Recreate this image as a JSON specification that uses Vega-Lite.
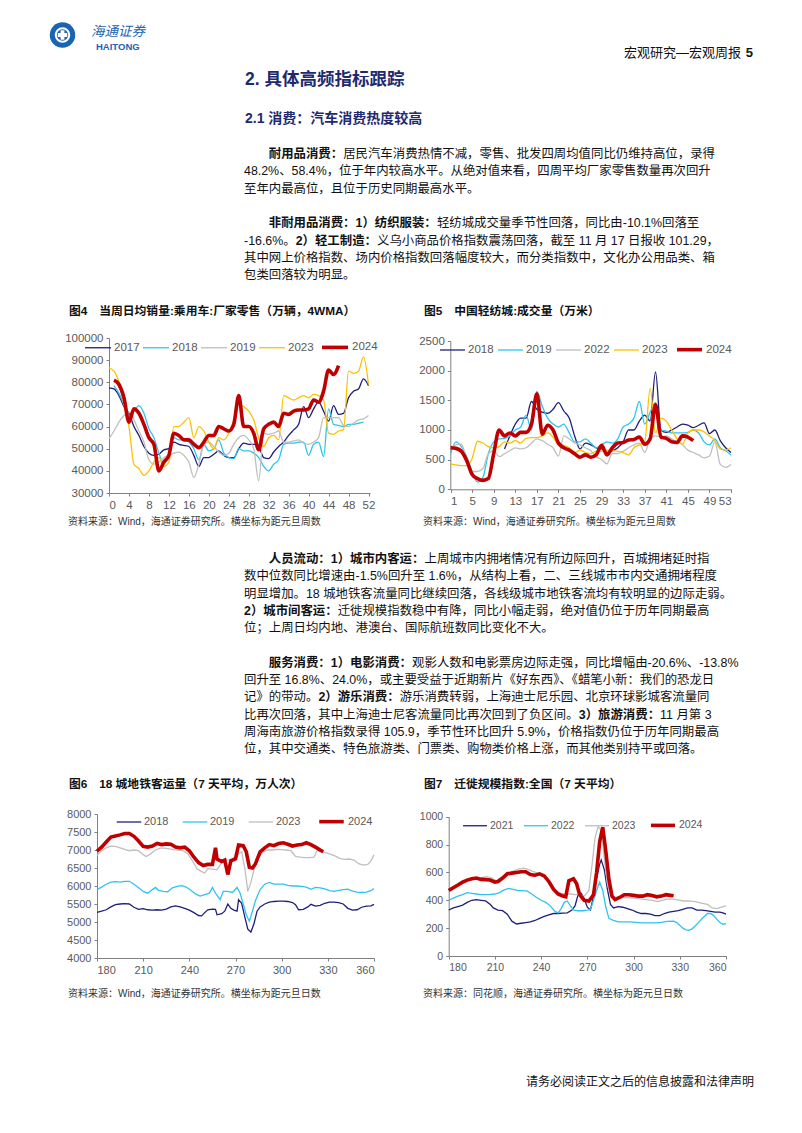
{
"$schema": "https://vega.github.io/schema/vega-lite/v6.json",
"padding": 0,
"background": "white",
"width": 802,
"height": 1133,
"config": {
  "view": {"stroke": null},
  "axis": {"labelFont": "Liberation Sans", "labelColor": "#595959", "domainColor": "#808080", "tickColor": "#808080", "grid": false, "tickSize": 3, "labelPadding": 3},
  "text": {"font": "Liberation Sans, Noto Sans CJK SC"},
  "legend": {"orient": "none", "direction": "horizontal", "title": null, "symbolType": "stroke", "labelFont": "Liberation Sans", "labelColor": "#595959", "padding": 0, "symbolStrokeWidth": 1.3}
},
"resolve": {
  "scale": {"x": "independent", "y": "independent", "color": "independent", "strokeWidth": "independent"},
  "axis": {"x": "independent", "y": "independent"},
  "legend": {"color": "independent", "strokeWidth": "independent"}
},
"datasets": {
"c4": [
{"s":"2017","x":0,"v":77500},{"s":"2017","x":1,"v":77000},{"s":"2017","x":2,"v":74000},{"s":"2017","x":3,"v":69000},{"s":"2017","x":4,"v":66000},{"s":"2017","x":5,"v":60000},{"s":"2017","x":6,"v":56000},{"s":"2017","x":7,"v":51000},{"s":"2017","x":8,"v":48000},{"s":"2017","x":9,"v":47000},{"s":"2017","x":10,"v":47500},{"s":"2017","x":11,"v":49500},{"s":"2017","x":12,"v":50000},{"s":"2017","x":13,"v":53000},{"s":"2017","x":14,"v":52000},{"s":"2017","x":15,"v":51500},{"s":"2017","x":16,"v":51000},{"s":"2017","x":17,"v":47000},{"s":"2017","x":18,"v":42000},{"s":"2017","x":19,"v":46000},{"s":"2017","x":20,"v":46000},{"s":"2017","x":21,"v":47500},{"s":"2017","x":22,"v":49000},{"s":"2017","x":23,"v":47000},{"s":"2017","x":24,"v":46000},{"s":"2017","x":25,"v":46000},{"s":"2017","x":26,"v":50000},{"s":"2017","x":27,"v":52500},{"s":"2017","x":28,"v":52000},{"s":"2017","x":29,"v":52000},{"s":"2017","x":30,"v":51000},{"s":"2017","x":31,"v":46000},{"s":"2017","x":32,"v":45500},{"s":"2017","x":33,"v":48500},{"s":"2017","x":34,"v":51000},{"s":"2017","x":35,"v":53000},{"s":"2017","x":36,"v":56000},{"s":"2017","x":37,"v":58500},{"s":"2017","x":38,"v":61000},{"s":"2017","x":39,"v":69000},{"s":"2017","x":40,"v":64000},{"s":"2017","x":41,"v":68000},{"s":"2017","x":42,"v":71000},{"s":"2017","x":43,"v":67000},{"s":"2017","x":44,"v":62500},{"s":"2017","x":45,"v":69500},{"s":"2017","x":46,"v":65500},{"s":"2017","x":47,"v":66000},{"s":"2017","x":48,"v":73000},{"s":"2017","x":49,"v":76000},{"s":"2017","x":50,"v":77000},{"s":"2017","x":51,"v":81500},{"s":"2017","x":52,"v":78500},
{"s":"2018","x":1,"v":78500},{"s":"2018","x":2,"v":75000},{"s":"2018","x":3,"v":70000},{"s":"2018","x":4,"v":65000},{"s":"2018","x":5,"v":67000},{"s":"2018","x":6,"v":69500},{"s":"2018","x":7,"v":66000},{"s":"2018","x":8,"v":59000},{"s":"2018","x":9,"v":55000},{"s":"2018","x":10,"v":48000},{"s":"2018","x":11,"v":43000},{"s":"2018","x":12,"v":47000},{"s":"2018","x":13,"v":55000},{"s":"2018","x":14,"v":54000},{"s":"2018","x":15,"v":54000},{"s":"2018","x":16,"v":53000},{"s":"2018","x":17,"v":50000},{"s":"2018","x":18,"v":45000},{"s":"2018","x":19,"v":52000},{"s":"2018","x":20,"v":49000},{"s":"2018","x":21,"v":50000},{"s":"2018","x":22,"v":54000},{"s":"2018","x":23,"v":48000},{"s":"2018","x":24,"v":46000},{"s":"2018","x":25,"v":45500},{"s":"2018","x":26,"v":50000},{"s":"2018","x":27,"v":49000},{"s":"2018","x":28,"v":49000},{"s":"2018","x":29,"v":48000},{"s":"2018","x":30,"v":46000},{"s":"2018","x":31,"v":42000},{"s":"2018","x":32,"v":40000},{"s":"2018","x":33,"v":43000},{"s":"2018","x":34,"v":45000},{"s":"2018","x":35,"v":52000},{"s":"2018","x":36,"v":52500},{"s":"2018","x":37,"v":52500},{"s":"2018","x":38,"v":53000},{"s":"2018","x":39,"v":53000},{"s":"2018","x":40,"v":47000},{"s":"2018","x":41,"v":52000},{"s":"2018","x":42,"v":53000},{"s":"2018","x":43,"v":46500},{"s":"2018","x":44,"v":68000},{"s":"2018","x":45,"v":61000},{"s":"2018","x":46,"v":60500},{"s":"2018","x":47,"v":60000},{"s":"2018","x":48,"v":61000},{"s":"2018","x":49,"v":61000},{"s":"2018","x":50,"v":61500},{"s":"2018","x":51,"v":62000},
{"s":"2019","x":0,"v":54500},{"s":"2019","x":1,"v":58000},{"s":"2019","x":2,"v":62000},{"s":"2019","x":3,"v":65000},{"s":"2019","x":4,"v":66500},{"s":"2019","x":5,"v":63000},{"s":"2019","x":6,"v":58000},{"s":"2019","x":7,"v":53000},{"s":"2019","x":8,"v":45000},{"s":"2019","x":9,"v":43000},{"s":"2019","x":10,"v":44000},{"s":"2019","x":11,"v":46000},{"s":"2019","x":12,"v":47000},{"s":"2019","x":13,"v":48000},{"s":"2019","x":14,"v":48500},{"s":"2019","x":15,"v":47000},{"s":"2019","x":16,"v":44000},{"s":"2019","x":17,"v":37000},{"s":"2019","x":18,"v":43000},{"s":"2019","x":19,"v":52000},{"s":"2019","x":20,"v":53000},{"s":"2019","x":21,"v":51000},{"s":"2019","x":22,"v":48500},{"s":"2019","x":23,"v":47000},{"s":"2019","x":24,"v":48000},{"s":"2019","x":25,"v":52000},{"s":"2019","x":26,"v":55000},{"s":"2019","x":27,"v":56000},{"s":"2019","x":28,"v":54000},{"s":"2019","x":29,"v":50000},{"s":"2019","x":30,"v":35500},{"s":"2019","x":31,"v":57000},{"s":"2019","x":32,"v":56500},{"s":"2019","x":33,"v":57000},{"s":"2019","x":34,"v":58000},{"s":"2019","x":35,"v":53000},{"s":"2019","x":36,"v":53000},{"s":"2019","x":37,"v":53500},{"s":"2019","x":38,"v":54000},{"s":"2019","x":39,"v":52500},{"s":"2019","x":40,"v":52000},{"s":"2019","x":41,"v":53000},{"s":"2019","x":42,"v":55000},{"s":"2019","x":43,"v":64000},{"s":"2019","x":44,"v":64000},{"s":"2019","x":45,"v":64000},{"s":"2019","x":46,"v":64000},{"s":"2019","x":47,"v":60500},{"s":"2019","x":48,"v":60000},{"s":"2019","x":49,"v":61500},{"s":"2019","x":50,"v":63000},{"s":"2019","x":51,"v":63500},{"s":"2019","x":52,"v":65000},
{"s":"2023","x":0,"v":86500},{"s":"2023","x":1,"v":85000},{"s":"2023","x":2,"v":80000},{"s":"2023","x":3,"v":70000},{"s":"2023","x":4,"v":60000},{"s":"2023","x":5,"v":43000},{"s":"2023","x":6,"v":41000},{"s":"2023","x":7,"v":38000},{"s":"2023","x":8,"v":40000},{"s":"2023","x":9,"v":44000},{"s":"2023","x":10,"v":46000},{"s":"2023","x":11,"v":42000},{"s":"2023","x":12,"v":44000},{"s":"2023","x":13,"v":60000},{"s":"2023","x":14,"v":60000},{"s":"2023","x":15,"v":62000},{"s":"2023","x":16,"v":64000},{"s":"2023","x":17,"v":55000},{"s":"2023","x":18,"v":60000},{"s":"2023","x":19,"v":58000},{"s":"2023","x":20,"v":53000},{"s":"2023","x":21,"v":50000},{"s":"2023","x":22,"v":55000},{"s":"2023","x":23,"v":54000},{"s":"2023","x":24,"v":57000},{"s":"2023","x":25,"v":63000},{"s":"2023","x":26,"v":70000},{"s":"2023","x":27,"v":69000},{"s":"2023","x":28,"v":67000},{"s":"2023","x":29,"v":63000},{"s":"2023","x":30,"v":55000},{"s":"2023","x":31,"v":51000},{"s":"2023","x":32,"v":55000},{"s":"2023","x":33,"v":56000},{"s":"2023","x":34,"v":54000},{"s":"2023","x":35,"v":74000},{"s":"2023","x":36,"v":73000},{"s":"2023","x":37,"v":72000},{"s":"2023","x":38,"v":73000},{"s":"2023","x":39,"v":74000},{"s":"2023","x":40,"v":73000},{"s":"2023","x":41,"v":74500},{"s":"2023","x":42,"v":74000},{"s":"2023","x":43,"v":72000},{"s":"2023","x":44,"v":57000},{"s":"2023","x":45,"v":56500},{"s":"2023","x":46,"v":58000},{"s":"2023","x":47,"v":58500},{"s":"2023","x":48,"v":85000},{"s":"2023","x":49,"v":84000},{"s":"2023","x":50,"v":85000},{"s":"2023","x":51,"v":91500},{"s":"2023","x":52,"v":79000},
{"s":"2024","x":1,"v":81000},{"s":"2024","x":2,"v":79000},{"s":"2024","x":3,"v":73000},{"s":"2024","x":4,"v":62000},{"s":"2024","x":5,"v":68000},{"s":"2024","x":6,"v":66000},{"s":"2024","x":7,"v":61000},{"s":"2024","x":8,"v":55000},{"s":"2024","x":9,"v":52000},{"s":"2024","x":10,"v":40000},{"s":"2024","x":11,"v":44000},{"s":"2024","x":12,"v":47000},{"s":"2024","x":13,"v":57000},{"s":"2024","x":14,"v":56000},{"s":"2024","x":15,"v":54000},{"s":"2024","x":16,"v":54000},{"s":"2024","x":17,"v":52000},{"s":"2024","x":18,"v":50500},{"s":"2024","x":19,"v":53000},{"s":"2024","x":20,"v":56000},{"s":"2024","x":21,"v":56000},{"s":"2024","x":22,"v":60000},{"s":"2024","x":23,"v":59000},{"s":"2024","x":24,"v":58000},{"s":"2024","x":25,"v":61000},{"s":"2024","x":26,"v":74000},{"s":"2024","x":27,"v":60000},{"s":"2024","x":28,"v":60000},{"s":"2024","x":29,"v":57000},{"s":"2024","x":30,"v":49500},{"s":"2024","x":31,"v":59000},{"s":"2024","x":32,"v":61000},{"s":"2024","x":33,"v":62000},{"s":"2024","x":34,"v":60000},{"s":"2024","x":35,"v":66000},{"s":"2024","x":36,"v":65500},{"s":"2024","x":37,"v":67000},{"s":"2024","x":38,"v":67500},{"s":"2024","x":39,"v":67500},{"s":"2024","x":40,"v":68000},{"s":"2024","x":41,"v":72000},{"s":"2024","x":42,"v":71000},{"s":"2024","x":43,"v":76000},{"s":"2024","x":44,"v":85500},{"s":"2024","x":45,"v":83500},{"s":"2024","x":46,"v":87500}
],
"c5": [
{"s":"2018","x":11,"v":680},{"s":"2018","x":12,"v":900},{"s":"2018","x":13,"v":1100},{"s":"2018","x":14,"v":1200},{"s":"2018","x":15,"v":1200},{"s":"2018","x":16,"v":1480},{"s":"2018","x":17,"v":1350},{"s":"2018","x":18,"v":1300},{"s":"2018","x":19,"v":1280},{"s":"2018","x":20,"v":1350},{"s":"2018","x":21,"v":1460},{"s":"2018","x":22,"v":1320},{"s":"2018","x":23,"v":1200},{"s":"2018","x":24,"v":900},{"s":"2018","x":25,"v":680},{"s":"2018","x":26,"v":780},{"s":"2018","x":27,"v":750},{"s":"2018","x":28,"v":700},{"s":"2018","x":29,"v":680},{"s":"2018","x":30,"v":620},{"s":"2018","x":31,"v":650},{"s":"2018","x":32,"v":700},{"s":"2018","x":33,"v":800},{"s":"2018","x":34,"v":1000},{"s":"2018","x":35,"v":1000},{"s":"2018","x":36,"v":1150},{"s":"2018","x":37,"v":1250},{"s":"2018","x":38,"v":1150},{"s":"2018","x":39,"v":1980},{"s":"2018","x":40,"v":1000},{"s":"2018","x":41,"v":960},{"s":"2018","x":42,"v":1000},{"s":"2018","x":43,"v":1050},{"s":"2018","x":44,"v":1100},{"s":"2018","x":45,"v":1080},{"s":"2018","x":46,"v":1040},{"s":"2018","x":47,"v":1080},{"s":"2018","x":48,"v":1120},{"s":"2018","x":49,"v":940},{"s":"2018","x":50,"v":1000},{"s":"2018","x":51,"v":820},{"s":"2018","x":52,"v":700},{"s":"2018","x":53,"v":620},
{"s":"2019","x":1,"v":600},{"s":"2019","x":2,"v":800},{"s":"2019","x":3,"v":720},{"s":"2019","x":4,"v":550},{"s":"2019","x":5,"v":300},{"s":"2019","x":6,"v":120},{"s":"2019","x":7,"v":200},{"s":"2019","x":8,"v":600},{"s":"2019","x":9,"v":800},{"s":"2019","x":10,"v":850},{"s":"2019","x":11,"v":860},{"s":"2019","x":12,"v":900},{"s":"2019","x":13,"v":1000},{"s":"2019","x":14,"v":1050},{"s":"2019","x":15,"v":1250},{"s":"2019","x":16,"v":1000},{"s":"2019","x":17,"v":1650},{"s":"2019","x":18,"v":1400},{"s":"2019","x":19,"v":1200},{"s":"2019","x":20,"v":1100},{"s":"2019","x":21,"v":1050},{"s":"2019","x":22,"v":1100},{"s":"2019","x":23,"v":950},{"s":"2019","x":24,"v":800},{"s":"2019","x":25,"v":800},{"s":"2019","x":26,"v":850},{"s":"2019","x":27,"v":780},{"s":"2019","x":28,"v":700},{"s":"2019","x":29,"v":750},{"s":"2019","x":30,"v":800},{"s":"2019","x":31,"v":780},{"s":"2019","x":32,"v":850},{"s":"2019","x":33,"v":1050},{"s":"2019","x":34,"v":1100},{"s":"2019","x":35,"v":1200},{"s":"2019","x":36,"v":1480},{"s":"2019","x":37,"v":1100},{"s":"2019","x":38,"v":1300},{"s":"2019","x":39,"v":1460},{"s":"2019","x":40,"v":1000},{"s":"2019","x":41,"v":980},{"s":"2019","x":42,"v":950},{"s":"2019","x":43,"v":950},{"s":"2019","x":44,"v":950},{"s":"2019","x":45,"v":960},{"s":"2019","x":46,"v":1000},{"s":"2019","x":47,"v":950},{"s":"2019","x":48,"v":800},{"s":"2019","x":49,"v":750},{"s":"2019","x":50,"v":850},{"s":"2019","x":51,"v":700},{"s":"2019","x":52,"v":650},{"s":"2019","x":53,"v":580},
{"s":"2022","x":1,"v":700},{"s":"2022","x":2,"v":750},{"s":"2022","x":3,"v":760},{"s":"2022","x":4,"v":500},{"s":"2022","x":5,"v":300},{"s":"2022","x":6,"v":300},{"s":"2022","x":7,"v":350},{"s":"2022","x":8,"v":600},{"s":"2022","x":9,"v":650},{"s":"2022","x":10,"v":550},{"s":"2022","x":11,"v":600},{"s":"2022","x":12,"v":650},{"s":"2022","x":13,"v":700},{"s":"2022","x":14,"v":680},{"s":"2022","x":15,"v":700},{"s":"2022","x":16,"v":780},{"s":"2022","x":17,"v":850},{"s":"2022","x":18,"v":820},{"s":"2022","x":19,"v":760},{"s":"2022","x":20,"v":700},{"s":"2022","x":21,"v":560},{"s":"2022","x":22,"v":900},{"s":"2022","x":23,"v":850},{"s":"2022","x":24,"v":780},{"s":"2022","x":25,"v":750},{"s":"2022","x":26,"v":700},{"s":"2022","x":27,"v":650},{"s":"2022","x":28,"v":550},{"s":"2022","x":29,"v":500},{"s":"2022","x":30,"v":430},{"s":"2022","x":31,"v":600},{"s":"2022","x":32,"v":600},{"s":"2022","x":33,"v":640},{"s":"2022","x":34,"v":700},{"s":"2022","x":35,"v":750},{"s":"2022","x":36,"v":780},{"s":"2022","x":37,"v":620},{"s":"2022","x":38,"v":850},{"s":"2022","x":39,"v":900},{"s":"2022","x":40,"v":880},{"s":"2022","x":41,"v":900},{"s":"2022","x":42,"v":850},{"s":"2022","x":43,"v":800},{"s":"2022","x":44,"v":750},{"s":"2022","x":45,"v":660},{"s":"2022","x":46,"v":620},{"s":"2022","x":47,"v":580},{"s":"2022","x":48,"v":530},{"s":"2022","x":49,"v":560},{"s":"2022","x":50,"v":800},{"s":"2022","x":51,"v":420},{"s":"2022","x":52,"v":370},{"s":"2022","x":53,"v":420},
{"s":"2023","x":1,"v":430},{"s":"2023","x":2,"v":410},{"s":"2023","x":3,"v":400},{"s":"2023","x":4,"v":400},{"s":"2023","x":5,"v":520},{"s":"2023","x":6,"v":810},{"s":"2023","x":7,"v":780},{"s":"2023","x":8,"v":720},{"s":"2023","x":9,"v":700},{"s":"2023","x":10,"v":720},{"s":"2023","x":11,"v":800},{"s":"2023","x":12,"v":780},{"s":"2023","x":13,"v":820},{"s":"2023","x":14,"v":780},{"s":"2023","x":15,"v":860},{"s":"2023","x":16,"v":870},{"s":"2023","x":17,"v":870},{"s":"2023","x":18,"v":900},{"s":"2023","x":19,"v":950},{"s":"2023","x":20,"v":880},{"s":"2023","x":21,"v":750},{"s":"2023","x":22,"v":740},{"s":"2023","x":23,"v":700},{"s":"2023","x":24,"v":620},{"s":"2023","x":25,"v":660},{"s":"2023","x":26,"v":620},{"s":"2023","x":27,"v":600},{"s":"2023","x":28,"v":640},{"s":"2023","x":29,"v":640},{"s":"2023","x":30,"v":660},{"s":"2023","x":31,"v":650},{"s":"2023","x":32,"v":640},{"s":"2023","x":33,"v":620},{"s":"2023","x":34,"v":580},{"s":"2023","x":35,"v":700},{"s":"2023","x":36,"v":750},{"s":"2023","x":37,"v":800},{"s":"2023","x":38,"v":1700},{"s":"2023","x":39,"v":950},{"s":"2023","x":40,"v":1200},{"s":"2023","x":41,"v":1150},{"s":"2023","x":42,"v":1000},{"s":"2023","x":43,"v":850},{"s":"2023","x":44,"v":760},{"s":"2023","x":45,"v":950},{"s":"2023","x":46,"v":1000},{"s":"2023","x":47,"v":1000},{"s":"2023","x":48,"v":970},{"s":"2023","x":49,"v":900},{"s":"2023","x":50,"v":820},{"s":"2023","x":51,"v":680},{"s":"2023","x":52,"v":660},{"s":"2023","x":53,"v":700},
{"s":"2024","x":1,"v":700},{"s":"2024","x":2,"v":690},{"s":"2024","x":3,"v":640},{"s":"2024","x":4,"v":480},{"s":"2024","x":5,"v":250},{"s":"2024","x":6,"v":180},{"s":"2024","x":7,"v":150},{"s":"2024","x":8,"v":180},{"s":"2024","x":9,"v":600},{"s":"2024","x":10,"v":1000},{"s":"2024","x":11,"v":900},{"s":"2024","x":12,"v":950},{"s":"2024","x":13,"v":900},{"s":"2024","x":14,"v":960},{"s":"2024","x":15,"v":960},{"s":"2024","x":16,"v":1100},{"s":"2024","x":17,"v":1610},{"s":"2024","x":18,"v":930},{"s":"2024","x":19,"v":1080},{"s":"2024","x":20,"v":1000},{"s":"2024","x":21,"v":780},{"s":"2024","x":22,"v":700},{"s":"2024","x":23,"v":660},{"s":"2024","x":24,"v":600},{"s":"2024","x":25,"v":540},{"s":"2024","x":26,"v":580},{"s":"2024","x":27,"v":540},{"s":"2024","x":28,"v":580},{"s":"2024","x":29,"v":740},{"s":"2024","x":30,"v":580},{"s":"2024","x":31,"v":700},{"s":"2024","x":32,"v":780},{"s":"2024","x":33,"v":790},{"s":"2024","x":34,"v":830},{"s":"2024","x":35,"v":840},{"s":"2024","x":36,"v":880},{"s":"2024","x":37,"v":760},{"s":"2024","x":38,"v":850},{"s":"2024","x":39,"v":1430},{"s":"2024","x":40,"v":880},{"s":"2024","x":41,"v":860},{"s":"2024","x":42,"v":800},{"s":"2024","x":43,"v":790},{"s":"2024","x":44,"v":900},{"s":"2024","x":45,"v":880},{"s":"2024","x":46,"v":820}
],
"c6": [
{"s":"2018","x":180,"v":5270},{"s":"2018","x":183,"v":5300},{"s":"2018","x":186,"v":5340},{"s":"2018","x":189,"v":5420},{"s":"2018","x":192,"v":5480},{"s":"2018","x":195,"v":5500},{"s":"2018","x":198,"v":5510},{"s":"2018","x":201,"v":5500},{"s":"2018","x":204,"v":5410},{"s":"2018","x":207,"v":5350},{"s":"2018","x":210,"v":5370},{"s":"2018","x":213,"v":5340},{"s":"2018","x":216,"v":5330},{"s":"2018","x":219,"v":5340},{"s":"2018","x":222,"v":5330},{"s":"2018","x":225,"v":5360},{"s":"2018","x":228,"v":5420},{"s":"2018","x":231,"v":5450},{"s":"2018","x":234,"v":5420},{"s":"2018","x":237,"v":5380},{"s":"2018","x":240,"v":5330},{"s":"2018","x":243,"v":5260},{"s":"2018","x":246,"v":5180},{"s":"2018","x":248,"v":5170},{"s":"2018","x":250,"v":5260},{"s":"2018","x":252,"v":5340},{"s":"2018","x":255,"v":5360},{"s":"2018","x":257,"v":5350},{"s":"2018","x":258,"v":5200},{"s":"2018","x":261,"v":5230},{"s":"2018","x":263,"v":5300},{"s":"2018","x":265,"v":5500},{"s":"2018","x":267,"v":5380},{"s":"2018","x":269,"v":5330},{"s":"2018","x":271,"v":5300},{"s":"2018","x":272,"v":5620},{"s":"2018","x":274,"v":5520},{"s":"2018","x":276,"v":5150},{"s":"2018","x":278,"v":4800},{"s":"2018","x":280,"v":4720},{"s":"2018","x":282,"v":4950},{"s":"2018","x":284,"v":5300},{"s":"2018","x":286,"v":5420},{"s":"2018","x":289,"v":5500},{"s":"2018","x":292,"v":5550},{"s":"2018","x":295,"v":5570},{"s":"2018","x":298,"v":5580},{"s":"2018","x":301,"v":5580},{"s":"2018","x":304,"v":5570},{"s":"2018","x":307,"v":5540},{"s":"2018","x":309,"v":5480},{"s":"2018","x":311,"v":5340},{"s":"2018","x":314,"v":5350},{"s":"2018","x":317,"v":5420},{"s":"2018","x":319,"v":5490},{"s":"2018","x":322,"v":5440},{"s":"2018","x":325,"v":5460},{"s":"2018","x":328,"v":5520},{"s":"2018","x":331,"v":5550},{"s":"2018","x":334,"v":5550},{"s":"2018","x":337,"v":5540},{"s":"2018","x":340,"v":5500},{"s":"2018","x":343,"v":5380},{"s":"2018","x":346,"v":5330},{"s":"2018","x":349,"v":5340},{"s":"2018","x":352,"v":5410},{"s":"2018","x":355,"v":5440},{"s":"2018","x":358,"v":5450},{"s":"2018","x":360,"v":5490},
{"s":"2019","x":180,"v":5900},{"s":"2019","x":183,"v":5970},{"s":"2019","x":186,"v":6050},{"s":"2019","x":189,"v":6110},{"s":"2019","x":192,"v":6120},{"s":"2019","x":195,"v":6110},{"s":"2019","x":198,"v":6130},{"s":"2019","x":201,"v":6130},{"s":"2019","x":204,"v":6050},{"s":"2019","x":207,"v":5950},{"s":"2019","x":210,"v":5850},{"s":"2019","x":213,"v":5800},{"s":"2019","x":216,"v":5900},{"s":"2019","x":218,"v":5960},{"s":"2019","x":220,"v":5880},{"s":"2019","x":223,"v":5850},{"s":"2019","x":226,"v":5840},{"s":"2019","x":229,"v":5950},{"s":"2019","x":232,"v":5990},{"s":"2019","x":235,"v":6010},{"s":"2019","x":238,"v":5970},{"s":"2019","x":241,"v":5880},{"s":"2019","x":244,"v":5780},{"s":"2019","x":247,"v":5720},{"s":"2019","x":250,"v":5760},{"s":"2019","x":253,"v":5800},{"s":"2019","x":255,"v":5960},{"s":"2019","x":257,"v":5800},{"s":"2019","x":260,"v":5620},{"s":"2019","x":262,"v":5850},{"s":"2019","x":265,"v":5850},{"s":"2019","x":268,"v":5820},{"s":"2019","x":271,"v":5960},{"s":"2019","x":273,"v":5800},{"s":"2019","x":275,"v":5500},{"s":"2019","x":277,"v":5200},{"s":"2019","x":279,"v":5020},{"s":"2019","x":281,"v":5300},{"s":"2019","x":283,"v":5600},{"s":"2019","x":286,"v":5900},{"s":"2019","x":289,"v":6050},{"s":"2019","x":292,"v":6100},{"s":"2019","x":295,"v":6050},{"s":"2019","x":298,"v":6050},{"s":"2019","x":301,"v":6050},{"s":"2019","x":304,"v":6020},{"s":"2019","x":307,"v":6000},{"s":"2019","x":310,"v":6000},{"s":"2019","x":313,"v":5990},{"s":"2019","x":316,"v":5970},{"s":"2019","x":319,"v":5910},{"s":"2019","x":322,"v":5960},{"s":"2019","x":325,"v":5950},{"s":"2019","x":328,"v":5920},{"s":"2019","x":331,"v":5870},{"s":"2019","x":334,"v":5850},{"s":"2019","x":337,"v":5880},{"s":"2019","x":340,"v":5900},{"s":"2019","x":343,"v":5910},{"s":"2019","x":346,"v":5860},{"s":"2019","x":349,"v":5830},{"s":"2019","x":352,"v":5820},{"s":"2019","x":355,"v":5830},{"s":"2019","x":358,"v":5870},{"s":"2019","x":360,"v":5930},
{"s":"2023","x":180,"v":6850},{"s":"2023","x":183,"v":6980},{"s":"2023","x":186,"v":7060},{"s":"2023","x":189,"v":7110},{"s":"2023","x":192,"v":7100},{"s":"2023","x":195,"v":7060},{"s":"2023","x":198,"v":7020},{"s":"2023","x":201,"v":6980},{"s":"2023","x":204,"v":7000},{"s":"2023","x":207,"v":6980},{"s":"2023","x":210,"v":6870},{"s":"2023","x":212,"v":6820},{"s":"2023","x":215,"v":6900},{"s":"2023","x":218,"v":7000},{"s":"2023","x":221,"v":7050},{"s":"2023","x":224,"v":7050},{"s":"2023","x":227,"v":7030},{"s":"2023","x":230,"v":7010},{"s":"2023","x":233,"v":6990},{"s":"2023","x":236,"v":6980},{"s":"2023","x":239,"v":6900},{"s":"2023","x":242,"v":6700},{"s":"2023","x":245,"v":6480},{"s":"2023","x":248,"v":6400},{"s":"2023","x":250,"v":6360},{"s":"2023","x":252,"v":6480},{"s":"2023","x":255,"v":6470},{"s":"2023","x":258,"v":6450},{"s":"2023","x":261,"v":6650},{"s":"2023","x":264,"v":6720},{"s":"2023","x":267,"v":6730},{"s":"2023","x":270,"v":6700},{"s":"2023","x":272,"v":6900},{"s":"2023","x":274,"v":6950},{"s":"2023","x":276,"v":6500},{"s":"2023","x":278,"v":5850},{"s":"2023","x":280,"v":6100},{"s":"2023","x":282,"v":6450},{"s":"2023","x":285,"v":6800},{"s":"2023","x":288,"v":6950},{"s":"2023","x":291,"v":7000},{"s":"2023","x":294,"v":7000},{"s":"2023","x":297,"v":7020},{"s":"2023","x":300,"v":7010},{"s":"2023","x":303,"v":7000},{"s":"2023","x":306,"v":6980},{"s":"2023","x":309,"v":6820},{"s":"2023","x":312,"v":6800},{"s":"2023","x":315,"v":6790},{"s":"2023","x":318,"v":6790},{"s":"2023","x":321,"v":6800},{"s":"2023","x":323,"v":6980},{"s":"2023","x":326,"v":6950},{"s":"2023","x":329,"v":6920},{"s":"2023","x":332,"v":6880},{"s":"2023","x":335,"v":6830},{"s":"2023","x":338,"v":6760},{"s":"2023","x":341,"v":6740},{"s":"2023","x":344,"v":6750},{"s":"2023","x":347,"v":6720},{"s":"2023","x":350,"v":6620},{"s":"2023","x":353,"v":6580},{"s":"2023","x":356,"v":6600},{"s":"2023","x":358,"v":6700},{"s":"2023","x":360,"v":6870},
{"s":"2024","x":180,"v":6970},{"s":"2024","x":183,"v":7080},{"s":"2024","x":186,"v":7220},{"s":"2024","x":189,"v":7360},{"s":"2024","x":192,"v":7390},{"s":"2024","x":195,"v":7420},{"s":"2024","x":198,"v":7460},{"s":"2024","x":201,"v":7460},{"s":"2024","x":204,"v":7380},{"s":"2024","x":207,"v":7250},{"s":"2024","x":210,"v":7100},{"s":"2024","x":213,"v":7080},{"s":"2024","x":216,"v":7110},{"s":"2024","x":219,"v":7180},{"s":"2024","x":222,"v":7150},{"s":"2024","x":225,"v":7170},{"s":"2024","x":228,"v":7160},{"s":"2024","x":231,"v":7080},{"s":"2024","x":234,"v":7060},{"s":"2024","x":237,"v":7080},{"s":"2024","x":240,"v":6980},{"s":"2024","x":243,"v":6800},{"s":"2024","x":246,"v":6650},{"s":"2024","x":249,"v":6570},{"s":"2024","x":252,"v":6600},{"s":"2024","x":255,"v":6600},{"s":"2024","x":257,"v":7060},{"s":"2024","x":258,"v":6750},{"s":"2024","x":261,"v":6680},{"s":"2024","x":263,"v":6720},{"s":"2024","x":265,"v":6320},{"s":"2024","x":267,"v":6700},{"s":"2024","x":270,"v":6760},{"s":"2024","x":272,"v":7140},{"s":"2024","x":275,"v":7120},{"s":"2024","x":277,"v":6950},{"s":"2024","x":279,"v":6520},{"s":"2024","x":281,"v":6500},{"s":"2024","x":283,"v":6620},{"s":"2024","x":286,"v":6950},{"s":"2024","x":289,"v":7060},{"s":"2024","x":292,"v":7150},{"s":"2024","x":295,"v":7120},{"s":"2024","x":298,"v":7180},{"s":"2024","x":301,"v":7200},{"s":"2024","x":304,"v":7160},{"s":"2024","x":307,"v":7110},{"s":"2024","x":310,"v":7140},{"s":"2024","x":313,"v":7150},{"s":"2024","x":316,"v":7200},{"s":"2024","x":319,"v":7150},{"s":"2024","x":322,"v":7080},{"s":"2024","x":325,"v":7000},{"s":"2024","x":327,"v":6950}
],
"c7": [
{"s":"2021","x":180,"v":330},{"s":"2021","x":183,"v":345},{"s":"2021","x":186,"v":355},{"s":"2021","x":189,"v":365},{"s":"2021","x":192,"v":385},{"s":"2021","x":195,"v":400},{"s":"2021","x":198,"v":405},{"s":"2021","x":201,"v":400},{"s":"2021","x":204,"v":395},{"s":"2021","x":207,"v":370},{"s":"2021","x":209,"v":345},{"s":"2021","x":212,"v":330},{"s":"2021","x":215,"v":325},{"s":"2021","x":218,"v":300},{"s":"2021","x":221,"v":250},{"s":"2021","x":224,"v":230},{"s":"2021","x":227,"v":235},{"s":"2021","x":230,"v":240},{"s":"2021","x":233,"v":245},{"s":"2021","x":236,"v":255},{"s":"2021","x":239,"v":270},{"s":"2021","x":242,"v":285},{"s":"2021","x":245,"v":295},{"s":"2021","x":248,"v":305},{"s":"2021","x":251,"v":305},{"s":"2021","x":254,"v":308},{"s":"2021","x":257,"v":310},{"s":"2021","x":260,"v":330},{"s":"2021","x":262,"v":360},{"s":"2021","x":264,"v":440},{"s":"2021","x":266,"v":450},{"s":"2021","x":268,"v":410},{"s":"2021","x":270,"v":350},{"s":"2021","x":272,"v":330},{"s":"2021","x":274,"v":430},{"s":"2021","x":276,"v":560},{"s":"2021","x":278,"v":660},{"s":"2021","x":279,"v":690},{"s":"2021","x":281,"v":620},{"s":"2021","x":283,"v":480},{"s":"2021","x":285,"v":370},{"s":"2021","x":287,"v":345},{"s":"2021","x":290,"v":355},{"s":"2021","x":293,"v":350},{"s":"2021","x":296,"v":340},{"s":"2021","x":299,"v":330},{"s":"2021","x":302,"v":315},{"s":"2021","x":305,"v":305},{"s":"2021","x":308,"v":305},{"s":"2021","x":311,"v":300},{"s":"2021","x":314,"v":290},{"s":"2021","x":317,"v":290},{"s":"2021","x":320,"v":305},{"s":"2021","x":323,"v":315},{"s":"2021","x":326,"v":320},{"s":"2021","x":329,"v":325},{"s":"2021","x":332,"v":335},{"s":"2021","x":335,"v":345},{"s":"2021","x":338,"v":345},{"s":"2021","x":341,"v":330},{"s":"2021","x":344,"v":330},{"s":"2021","x":347,"v":325},{"s":"2021","x":350,"v":320},{"s":"2021","x":353,"v":315},{"s":"2021","x":356,"v":315},{"s":"2021","x":358,"v":310},{"s":"2021","x":360,"v":300},
{"s":"2022","x":180,"v":400},{"s":"2022","x":183,"v":415},{"s":"2022","x":186,"v":430},{"s":"2022","x":189,"v":440},{"s":"2022","x":192,"v":455},{"s":"2022","x":195,"v":450},{"s":"2022","x":198,"v":445},{"s":"2022","x":201,"v":440},{"s":"2022","x":204,"v":440},{"s":"2022","x":207,"v":442},{"s":"2022","x":210,"v":445},{"s":"2022","x":213,"v":455},{"s":"2022","x":216,"v":475},{"s":"2022","x":219,"v":485},{"s":"2022","x":222,"v":478},{"s":"2022","x":225,"v":470},{"s":"2022","x":228,"v":470},{"s":"2022","x":231,"v":465},{"s":"2022","x":234,"v":445},{"s":"2022","x":237,"v":420},{"s":"2022","x":240,"v":400},{"s":"2022","x":243,"v":385},{"s":"2022","x":246,"v":360},{"s":"2022","x":249,"v":320},{"s":"2022","x":251,"v":310},{"s":"2022","x":253,"v":340},{"s":"2022","x":255,"v":385},{"s":"2022","x":257,"v":395},{"s":"2022","x":259,"v":360},{"s":"2022","x":261,"v":330},{"s":"2022","x":264,"v":325},{"s":"2022","x":267,"v":325},{"s":"2022","x":270,"v":330},{"s":"2022","x":272,"v":335},{"s":"2022","x":274,"v":400},{"s":"2022","x":276,"v":470},{"s":"2022","x":278,"v":530},{"s":"2022","x":280,"v":470},{"s":"2022","x":282,"v":350},{"s":"2022","x":284,"v":270},{"s":"2022","x":287,"v":255},{"s":"2022","x":290,"v":245},{"s":"2022","x":294,"v":245},{"s":"2022","x":298,"v":245},{"s":"2022","x":302,"v":242},{"s":"2022","x":306,"v":238},{"s":"2022","x":310,"v":238},{"s":"2022","x":314,"v":238},{"s":"2022","x":318,"v":242},{"s":"2022","x":322,"v":248},{"s":"2022","x":326,"v":250},{"s":"2022","x":328,"v":240},{"s":"2022","x":330,"v":220},{"s":"2022","x":332,"v":200},{"s":"2022","x":334,"v":188},{"s":"2022","x":336,"v":185},{"s":"2022","x":338,"v":195},{"s":"2022","x":340,"v":215},{"s":"2022","x":342,"v":240},{"s":"2022","x":345,"v":275},{"s":"2022","x":348,"v":305},{"s":"2022","x":350,"v":305},{"s":"2022","x":352,"v":290},{"s":"2022","x":354,"v":265},{"s":"2022","x":356,"v":240},{"s":"2022","x":358,"v":228},{"s":"2022","x":360,"v":232},
{"s":"2023","x":180,"v":480},{"s":"2023","x":185,"v":510},{"s":"2023","x":190,"v":530},{"s":"2023","x":195,"v":555},{"s":"2023","x":200,"v":560},{"s":"2023","x":205,"v":570},{"s":"2023","x":208,"v":560},{"s":"2023","x":211,"v":540},{"s":"2023","x":214,"v":560},{"s":"2023","x":217,"v":585},{"s":"2023","x":220,"v":600},{"s":"2023","x":223,"v":615},{"s":"2023","x":226,"v":625},{"s":"2023","x":229,"v":630},{"s":"2023","x":232,"v":620},{"s":"2023","x":235,"v":605},{"s":"2023","x":238,"v":595},{"s":"2023","x":241,"v":580},{"s":"2023","x":244,"v":540},{"s":"2023","x":247,"v":490},{"s":"2023","x":250,"v":460},{"s":"2023","x":253,"v":450},{"s":"2023","x":256,"v":445},{"s":"2023","x":259,"v":445},{"s":"2023","x":262,"v":440},{"s":"2023","x":265,"v":440},{"s":"2023","x":268,"v":430},{"s":"2023","x":271,"v":470},{"s":"2023","x":273,"v":650},{"s":"2023","x":275,"v":850},{"s":"2023","x":277,"v":930},{"s":"2023","x":279,"v":900},{"s":"2023","x":281,"v":700},{"s":"2023","x":283,"v":520},{"s":"2023","x":285,"v":440},{"s":"2023","x":288,"v":420},{"s":"2023","x":292,"v":420},{"s":"2023","x":296,"v":420},{"s":"2023","x":300,"v":415},{"s":"2023","x":304,"v":410},{"s":"2023","x":308,"v":405},{"s":"2023","x":312,"v":400},{"s":"2023","x":316,"v":390},{"s":"2023","x":320,"v":405},{"s":"2023","x":324,"v":410},{"s":"2023","x":328,"v":405},{"s":"2023","x":332,"v":395},{"s":"2023","x":336,"v":395},{"s":"2023","x":340,"v":390},{"s":"2023","x":344,"v":380},{"s":"2023","x":348,"v":370},{"s":"2023","x":351,"v":345},{"s":"2023","x":354,"v":340},{"s":"2023","x":357,"v":350},{"s":"2023","x":360,"v":360},
{"s":"2024","x":180,"v":470},{"s":"2024","x":183,"v":490},{"s":"2024","x":186,"v":510},{"s":"2024","x":189,"v":530},{"s":"2024","x":192,"v":545},{"s":"2024","x":195,"v":555},{"s":"2024","x":198,"v":560},{"s":"2024","x":201,"v":550},{"s":"2024","x":204,"v":548},{"s":"2024","x":207,"v":545},{"s":"2024","x":210,"v":530},{"s":"2024","x":212,"v":535},{"s":"2024","x":215,"v":560},{"s":"2024","x":218,"v":590},{"s":"2024","x":221,"v":595},{"s":"2024","x":224,"v":600},{"s":"2024","x":227,"v":605},{"s":"2024","x":230,"v":605},{"s":"2024","x":233,"v":585},{"s":"2024","x":236,"v":580},{"s":"2024","x":239,"v":590},{"s":"2024","x":242,"v":575},{"s":"2024","x":245,"v":535},{"s":"2024","x":248,"v":480},{"s":"2024","x":251,"v":445},{"s":"2024","x":254,"v":430},{"s":"2024","x":256,"v":425},{"s":"2024","x":258,"v":540},{"s":"2024","x":261,"v":555},{"s":"2024","x":263,"v":520},{"s":"2024","x":265,"v":440},{"s":"2024","x":268,"v":400},{"s":"2024","x":271,"v":395},{"s":"2024","x":274,"v":440},{"s":"2024","x":276,"v":600},{"s":"2024","x":278,"v":820},{"s":"2024","x":280,"v":925},{"s":"2024","x":282,"v":750},{"s":"2024","x":284,"v":550},{"s":"2024","x":286,"v":430},{"s":"2024","x":288,"v":405},{"s":"2024","x":291,"v":420},{"s":"2024","x":294,"v":440},{"s":"2024","x":297,"v":440},{"s":"2024","x":300,"v":435},{"s":"2024","x":303,"v":430},{"s":"2024","x":306,"v":430},{"s":"2024","x":309,"v":440},{"s":"2024","x":312,"v":435},{"s":"2024","x":315,"v":425},{"s":"2024","x":318,"v":430},{"s":"2024","x":321,"v":440},{"s":"2024","x":324,"v":435},{"s":"2024","x":326,"v":432}
]
},
"layer": [
  {"data": {"values": [{}]}, "mark": {"type": "rule", "x": 0, "x2": 802, "y": 0.75, "stroke": "#8c8c8c", "strokeWidth": 1.5}, "encoding": {}},
  {"data": {"values": [{}]}, "mark": {"type": "rule", "x": 0.75, "y": 0, "y2": 1133, "stroke": "#8c8c8c", "strokeWidth": 1.5}, "encoding": {}},
  {"data": {"values": [{}]}, "mark": {"type": "rule", "x": 800.75, "y": 0, "y2": 1133, "stroke": "#8c8c8c", "strokeWidth": 1.5}, "encoding": {}},
  {"data": {"values": [{}]}, "mark": {"type": "rule", "x": 0, "x2": 802, "y": 1132.25, "stroke": "#8c8c8c", "strokeWidth": 1.5}, "encoding": {}},
  {"data": {"values": [{}]}, "mark": {"type": "point", "shape": "circle", "filled": true, "x": 61.5, "y": 34, "size": 650, "color": "#1B64B2", "opacity": 1}, "encoding": {}},
  {"data": {"values": [{}]}, "mark": {"type": "point", "shape": "circle", "filled": false, "x": 61.5, "y": 34, "size": 180, "color": "white", "strokeWidth": 2, "opacity": 1}, "encoding": {}},
  {"data": {"values": [{}]}, "mark": {"type": "point", "shape": "cross", "filled": true, "x": 61.5, "y": 34, "size": 90, "color": "white", "opacity": 1}, "encoding": {}},
  {"data": {"values": [{"t": "海通证券"}]}, "mark": {"type": "text", "x": 90, "y": 30.5, "align": "left", "baseline": "middle", "font": "Noto Sans CJK SC", "fontSize": 13.5, "fontStyle": "italic", "fill": "#1B64B2"}, "encoding": {"text": {"field": "t"}}},
  {"data": {"values": [{"t": "HAITONG"}]}, "mark": {"type": "text", "x": 95, "y": 46, "align": "left", "baseline": "middle", "font": "Liberation Sans", "fontSize": 9.5, "fontWeight": "bold", "fill": "#1B64B2"}, "encoding": {"text": {"field": "t"}}},
  {"data": {"values": [{"t": "宏观研究—宏观周报"}]}, "mark": {"type": "text", "x": 740, "y": 52, "align": "right", "baseline": "middle", "fontSize": 13, "fill": "#111"}, "encoding": {"text": {"field": "t"}}},
  {"data": {"values": [{"t": "5"}]}, "mark": {"type": "text", "x": 752, "y": 52, "align": "right", "baseline": "middle", "fontSize": 13, "fontWeight": "bold", "fill": "#111"}, "encoding": {"text": {"field": "t"}}},
  {"data": {"values": [{}]}, "mark": {"type": "rule", "x": 45, "x2": 757, "y": 63, "stroke": "#27297A", "strokeWidth": 2.5}, "encoding": {}},
  {"data": {"values": [{"t": "2. 具体高频指标跟踪"}]}, "mark": {"type": "text", "x": 244, "y": 79, "align": "left", "baseline": "middle", "fontSize": 17.5, "fontWeight": "bold", "fill": "#1F2A6E"}, "encoding": {"text": {"field": "t"}}},
  {"data": {"values": [{"t": "2.1 消费：汽车消费热度较高"}]}, "mark": {"type": "text", "x": 244, "y": 118, "align": "left", "baseline": "middle", "fontSize": 14, "fontWeight": "bold", "fill": "#1F2A6E"}, "encoding": {"text": {"field": "t"}}},
  {"data": {"values": [
    {"i": 1, "t": "48.2%、58.4%，位于年内较高水平。从绝对值来看，四周平均厂家零售数量再次回升"},
    {"i": 2, "t": "至年内最高位，且位于历史同期最高水平。"},
    {"i": 5, "t": "-16.6%。"},
    {"i": 6, "t": "其中网上价格指数、场内价格指数回落幅度较大，而分类指数中，文化办公用品类、箱"},
    {"i": 7, "t": "包类回落较为明显。"}
   ]},
   "mark": {"type": "text", "x": 243, "align": "left", "baseline": "middle", "fontSize": 12.4, "fill": "#111"},
   "encoding": {"y": {"field": "i", "type": "quantitative", "scale": {"domain": [0, 7], "range": [153, 274.1]}, "axis": null}, "text": {"field": "t"}}},
  {"data": {"values": [
    {"i": 0, "t": "\u200B\u3000\u3000耐用品消费："},
    {"i": 4, "t": "\u200B\u3000\u3000非耐用品消费：1）纺织服装："}
   ]},
   "mark": {"type": "text", "x": 243, "align": "left", "baseline": "middle", "fontSize": 12.4, "fontWeight": "bold", "fill": "#111"},
   "encoding": {"y": {"field": "i", "type": "quantitative", "scale": {"domain": [0, 7], "range": [153, 274.1]}, "axis": null}, "text": {"field": "t"}}},
  {"data": {"values": [{"i": 5, "t": "2）轻工制造："}]},
   "mark": {"type": "text", "x": 294.7, "align": "left", "baseline": "middle", "fontSize": 12.4, "fontWeight": "bold", "fill": "#111"},
   "encoding": {"y": {"field": "i", "type": "quantitative", "scale": {"domain": [0, 7], "range": [153, 274.1]}, "axis": null}, "text": {"field": "t"}}},
  {"data": {"values": [{"i": 0, "t": "居民汽车消费热情不减，零售、批发四周均值同比仍维持高位，录得"}]},
   "mark": {"type": "text", "x": 342.2, "align": "left", "baseline": "middle", "fontSize": 12.4, "fill": "#111"},
   "encoding": {"y": {"field": "i", "type": "quantitative", "scale": {"domain": [0, 7], "range": [153, 274.1]}, "axis": null}, "text": {"field": "t"}}},
  {"data": {"values": [{"i": 4, "t": "轻纺城成交量季节性回落，同比由-10.1%回落至"}]},
   "mark": {"type": "text", "x": 435.9, "align": "left", "baseline": "middle", "fontSize": 12.4, "fill": "#111"},
   "encoding": {"y": {"field": "i", "type": "quantitative", "scale": {"domain": [0, 7], "range": [153, 274.1]}, "axis": null}, "text": {"field": "t"}}},
  {"data": {"values": [{"i": 5, "t": "义乌小商品价格指数震荡回落，截至 11 月 17 日报收 101.29，"}]},
   "mark": {"type": "text", "x": 376.0, "align": "left", "baseline": "middle", "fontSize": 12.4, "fill": "#111"},
   "encoding": {"y": {"field": "i", "type": "quantitative", "scale": {"domain": [0, 7], "range": [153, 274.1]}, "axis": null}, "text": {"field": "t"}}},
  {"data": {"values": [{}]}, "mark": {"type": "rule", "x": 59, "x2": 401, "y": 298, "stroke": "#7f7f7f", "strokeWidth": 1.2}, "encoding": {}},
  {"data": {"values": [{}]}, "mark": {"type": "rule", "x": 59, "x2": 401, "y": 321, "stroke": "#7f7f7f", "strokeWidth": 1}, "encoding": {}},
  {"data": {"values": [{}]}, "mark": {"type": "rule", "x": 413, "x2": 757, "y": 298, "stroke": "#7f7f7f", "strokeWidth": 1.2}, "encoding": {}},
  {"data": {"values": [{}]}, "mark": {"type": "rule", "x": 413, "x2": 757, "y": 321, "stroke": "#7f7f7f", "strokeWidth": 1}, "encoding": {}},
  {"data": {"values": [{"t": "图4　当周日均销量:乘用车:厂家零售（万辆，4WMA）"}]}, "mark": {"type": "text", "x": 68, "y": 310, "align": "left", "baseline": "middle", "fontSize": 11.8, "fontWeight": "bold", "fill": "#111"}, "encoding": {"text": {"field": "t"}}},
  {"data": {"values": [{"t": "图5　中国轻纺城:成交量（万米）"}]}, "mark": {"type": "text", "x": 423, "y": 310, "align": "left", "baseline": "middle", "fontSize": 11.8, "fontWeight": "bold", "fill": "#111"}, "encoding": {"text": {"field": "t"}}},
  {"data": {"values": [{}]}, "mark": {"type": "rule", "x": 59, "x2": 401, "y": 512, "stroke": "#7f7f7f", "strokeWidth": 1}, "encoding": {}},
  {"data": {"values": [{}]}, "mark": {"type": "rule", "x": 413, "x2": 757, "y": 512, "stroke": "#7f7f7f", "strokeWidth": 1}, "encoding": {}},
  {"data": {"values": [{"t": "资料来源：Wind，海通证券研究所。横坐标为距元旦周数"}]}, "mark": {"type": "text", "x": 67, "y": 521, "align": "left", "baseline": "middle", "fontSize": 10, "fill": "#333"}, "encoding": {"text": {"field": "t"}}},
  {"data": {"values": [{"t": "资料来源：Wind，海通证券研究所。横坐标为距元旦周数"}]}, "mark": {"type": "text", "x": 422, "y": 521, "align": "left", "baseline": "middle", "fontSize": 10, "fill": "#333"}, "encoding": {"text": {"field": "t"}}},
  {"data": {"values": [
    {"i": 1, "t": "数中位数同比增速由-1.5%回升至 1.6%，从结构上看，二、三线城市市内交通拥堵程度"},
    {"i": 2, "t": "明显增加。18 城地铁客流量同比继续回落，各线级城市地铁客流均有较明显的边际走弱。"},
    {"i": 4, "t": "位；上周日均内地、港澳台、国际航班数同比变化不大。"},
    {"i": 7, "t": "回升至 16.8%、24.0%，或主要受益于近期新片《好东西》、《蜡笔小新：我们的恐龙日"},
    {"i": 8, "t": "记》的带动。"},
    {"i": 9, "t": "比再次回落，其中上海迪士尼客流量同比再次回到了负区间。"},
    {"i": 10, "t": "周海南旅游价格指数录得 105.9，季节性环比回升 5.9%，价格指数仍位于历年同期最高"},
    {"i": 11, "t": "位，其中交通类、特色旅游类、门票类、购物类价格上涨，而其他类别持平或回落。"}
   ]},
   "mark": {"type": "text", "x": 243, "align": "left", "baseline": "middle", "fontSize": 12.4, "fill": "#111"},
   "encoding": {"y": {"field": "i", "type": "quantitative", "scale": {"domain": [0, 11], "range": [558, 748.3]}, "axis": null}, "text": {"field": "t"}}},
  {"data": {"values": [
    {"i": 0, "t": "\u200B\u3000\u3000人员流动：1）城市内客运："},
    {"i": 3, "t": "2）城市间客运："},
    {"i": 6, "t": "\u200B\u3000\u3000服务消费：1）电影消费："}
   ]},
   "mark": {"type": "text", "x": 243, "align": "left", "baseline": "middle", "fontSize": 12.4, "fontWeight": "bold", "fill": "#111"},
   "encoding": {"y": {"field": "i", "type": "quantitative", "scale": {"domain": [0, 11], "range": [558, 748.3]}, "axis": null}, "text": {"field": "t"}}},
  {"data": {"values": [{"i": 8, "t": "2）游乐消费："}]},
   "mark": {"type": "text", "x": 317.4, "align": "left", "baseline": "middle", "fontSize": 12.4, "fontWeight": "bold", "fill": "#111"},
   "encoding": {"y": {"field": "i", "type": "quantitative", "scale": {"domain": [0, 11], "range": [558, 748.3]}, "axis": null}, "text": {"field": "t"}}},
  {"data": {"values": [{"i": 9, "t": "3）旅游消费："}]},
   "mark": {"type": "text", "x": 577.8, "align": "left", "baseline": "middle", "fontSize": 12.4, "fontWeight": "bold", "fill": "#111"},
   "encoding": {"y": {"field": "i", "type": "quantitative", "scale": {"domain": [0, 11], "range": [558, 748.3]}, "axis": null}, "text": {"field": "t"}}},
  {"data": {"values": [{"i": 0, "t": "上周城市内拥堵情况有所边际回升，百城拥堵延时指"}]},
   "mark": {"type": "text", "x": 423.5, "align": "left", "baseline": "middle", "fontSize": 12.4, "fill": "#111"},
   "encoding": {"y": {"field": "i", "type": "quantitative", "scale": {"domain": [0, 11], "range": [558, 748.3]}, "axis": null}, "text": {"field": "t"}}},
  {"data": {"values": [{"i": 3, "t": "迁徙规模指数稳中有降，同比小幅走弱，绝对值仍位于历年同期最高"}]},
   "mark": {"type": "text", "x": 336.7, "align": "left", "baseline": "middle", "fontSize": 12.4, "fill": "#111"},
   "encoding": {"y": {"field": "i", "type": "quantitative", "scale": {"domain": [0, 11], "range": [558, 748.3]}, "axis": null}, "text": {"field": "t"}}},
  {"data": {"values": [{"i": 6, "t": "观影人数和电影票房边际走强，同比增幅由-20.6%、-13.8%"}]},
   "mark": {"type": "text", "x": 411.1, "align": "left", "baseline": "middle", "fontSize": 12.4, "fill": "#111"},
   "encoding": {"y": {"field": "i", "type": "quantitative", "scale": {"domain": [0, 11], "range": [558, 748.3]}, "axis": null}, "text": {"field": "t"}}},
  {"data": {"values": [{"i": 8, "t": "游乐消费转弱，上海迪士尼乐园、北京环球影城客流量同"}]},
   "mark": {"type": "text", "x": 398.7, "align": "left", "baseline": "middle", "fontSize": 12.4, "fill": "#111"},
   "encoding": {"y": {"field": "i", "type": "quantitative", "scale": {"domain": [0, 11], "range": [558, 748.3]}, "axis": null}, "text": {"field": "t"}}},
  {"data": {"values": [{"i": 9, "t": "11 月第 3"}]},
   "mark": {"type": "text", "x": 659.1, "align": "left", "baseline": "middle", "fontSize": 12.4, "fill": "#111"},
   "encoding": {"y": {"field": "i", "type": "quantitative", "scale": {"domain": [0, 11], "range": [558, 748.3]}, "axis": null}, "text": {"field": "t"}}},
  {"data": {"values": [{}]}, "mark": {"type": "rule", "x": 59, "x2": 401, "y": 771, "stroke": "#7f7f7f", "strokeWidth": 1.2}, "encoding": {}},
  {"data": {"values": [{}]}, "mark": {"type": "rule", "x": 59, "x2": 401, "y": 794, "stroke": "#7f7f7f", "strokeWidth": 1}, "encoding": {}},
  {"data": {"values": [{}]}, "mark": {"type": "rule", "x": 413, "x2": 757, "y": 771, "stroke": "#7f7f7f", "strokeWidth": 1.2}, "encoding": {}},
  {"data": {"values": [{}]}, "mark": {"type": "rule", "x": 413, "x2": 757, "y": 794, "stroke": "#7f7f7f", "strokeWidth": 1}, "encoding": {}},
  {"data": {"values": [{"t": "图6　18 城地铁客运量（7 天平均，万人次）"}]}, "mark": {"type": "text", "x": 68, "y": 783, "align": "left", "baseline": "middle", "fontSize": 11.8, "fontWeight": "bold", "fill": "#111"}, "encoding": {"text": {"field": "t"}}},
  {"data": {"values": [{"t": "图7　迁徙规模指数:全国（7 天平均）"}]}, "mark": {"type": "text", "x": 423, "y": 783, "align": "left", "baseline": "middle", "fontSize": 11.8, "fontWeight": "bold", "fill": "#111"}, "encoding": {"text": {"field": "t"}}},
  {"data": {"values": [{}]}, "mark": {"type": "rule", "x": 59, "x2": 401, "y": 984, "stroke": "#7f7f7f", "strokeWidth": 1}, "encoding": {}},
  {"data": {"values": [{}]}, "mark": {"type": "rule", "x": 413, "x2": 757, "y": 984, "stroke": "#7f7f7f", "strokeWidth": 1}, "encoding": {}},
  {"data": {"values": [{"t": "资料来源：Wind，海通证券研究所。横坐标为距元旦日数"}]}, "mark": {"type": "text", "x": 67, "y": 993, "align": "left", "baseline": "middle", "fontSize": 10, "fill": "#333"}, "encoding": {"text": {"field": "t"}}},
  {"data": {"values": [{"t": "资料来源：同花顺，海通证券研究所。横坐标为距元旦日数"}]}, "mark": {"type": "text", "x": 422, "y": 993, "align": "left", "baseline": "middle", "fontSize": 10, "fill": "#333"}, "encoding": {"text": {"field": "t"}}},
  {"data": {"values": [{}]}, "mark": {"type": "rule", "x": 45, "x2": 755, "y": 1066, "stroke": "#27297A", "strokeWidth": 2.5}, "encoding": {}},
  {"data": {"values": [{"t": "请务必阅读正文之后的信息披露和法律声明"}]}, "mark": {"type": "text", "x": 753, "y": 1081, "align": "right", "baseline": "middle", "fontSize": 12, "fill": "#111"}, "encoding": {"text": {"field": "t"}}},
  {
   "data": {"name": "c4"},
   "mark": {"type": "line", "interpolate": "monotone"},
   "encoding": {
    "x": {"field": "x", "type": "quantitative", "title": null, "scale": {"domain": [0, 52.3], "nice": false, "zero": false, "range": [108, 369]}, "axis": {"orient": "bottom", "offset": -641, "values": [0,4,8,12,16,20,24,28,32,36,40,44,48,52], "labelFontSize": 11.5}},
    "y": {"field": "v", "type": "quantitative", "title": null, "scale": {"domain": [30000, 100000], "nice": false, "zero": false, "range": [492, 337]}, "axis": {"orient": "left", "offset": -108, "values": [30000,40000,50000,60000,70000,80000,90000,100000], "format": "d", "labelFontSize": 11.5}},
    "color": {"field": "s", "type": "nominal", "scale": {"domain": ["2017","2018","2019","2023","2024"], "range": ["#1F1F7A","#2EC4F0","#BFBFBF","#FFC000","#C00000"]}, "legend": {"legendX": 83, "legendY": 331, "symbolSize": 676, "labelFontSize": 11.5, "labelOffset": 2, "columnPadding": 0}},
    "strokeWidth": {"field": "s", "type": "nominal", "scale": {"type": "ordinal", "domain": ["2017","2018","2019","2023","2024"], "range": [1.3,1.3,1.3,1.3,3.6]}}
   }
  },
  {
   "data": {"name": "c5"},
   "mark": {"type": "line", "interpolate": "monotone"},
   "encoding": {
    "x": {"field": "x", "type": "quantitative", "title": null, "scale": {"domain": [0.95, 53.05], "nice": false, "zero": false, "range": [449.3, 730.3]}, "axis": {"orient": "bottom", "offset": -644.7, "values": [1,5,9,13,17,21,25,29,33,37,41,45,49,53], "labelFontSize": 11.5}},
    "y": {"field": "v", "type": "quantitative", "title": null, "scale": {"domain": [0, 2500], "nice": false, "range": [488.3, 340]}, "axis": {"orient": "left", "offset": -449.3, "values": [0,500,1000,1500,2000,2500], "format": "d", "labelFontSize": 11.5}},
    "color": {"field": "s", "type": "nominal", "scale": {"domain": ["2018","2019","2022","2023","2024"], "range": ["#1F1F7A","#2EC4F0","#BFBFBF","#FFC000","#C00000"]}, "legend": {"legendX": 438, "legendY": 334, "symbolSize": 625, "labelFontSize": 11.5, "labelOffset": 2, "columnPadding": 1}},
    "strokeWidth": {"field": "s", "type": "nominal", "scale": {"type": "ordinal", "domain": ["2018","2019","2022","2023","2024"], "range": [1.3,1.3,1.3,1.3,3.6]}}
   }
  },
  {
   "data": {"name": "c6"},
   "mark": {"type": "line"},
   "encoding": {
    "x": {"field": "x", "type": "quantitative", "title": null, "scale": {"domain": [180, 360], "nice": false, "zero": false, "range": [96, 373]}, "axis": {"orient": "bottom", "offset": -176, "values": [180,210,240,270,300,330,360], "labelFontSize": 11}},
    "y": {"field": "v", "type": "quantitative", "title": null, "scale": {"domain": [4000, 8000], "nice": false, "zero": false, "range": [957, 813]}, "axis": {"orient": "left", "offset": -96, "values": [4000,4500,5000,5500,6000,6500,7000,7500,8000], "format": "d", "labelFontSize": 11}},
    "color": {"field": "s", "type": "nominal", "scale": {"domain": ["2018","2019","2023","2024"], "range": ["#1F1F7A","#2EC4F0","#BFBFBF","#C00000"]}, "legend": {"legendX": 115, "legendY": 806, "symbolSize": 600, "labelFontSize": 11, "labelOffset": 2, "columnPadding": 11}},
    "strokeWidth": {"field": "s", "type": "nominal", "scale": {"type": "ordinal", "domain": ["2018","2019","2023","2024"], "range": [1.3,1.3,1.3,3.6]}}
   }
  },
  {
   "data": {"name": "c7"},
   "mark": {"type": "line"},
   "encoding": {
    "x": {"field": "x", "type": "quantitative", "title": null, "scale": {"domain": [180, 360], "nice": false, "zero": false, "range": [447.7, 725]}, "axis": {"orient": "bottom", "offset": -178, "values": [180,210,240,270,300,330,360], "labelFontSize": 10.5}},
    "y": {"field": "v", "type": "quantitative", "title": null, "scale": {"domain": [0, 1000], "nice": false, "range": [955, 815.7]}, "axis": {"orient": "left", "offset": -447.7, "values": [0,200,400,600,800,1000], "format": "d", "labelFontSize": 10.5}},
    "color": {"field": "s", "type": "nominal", "scale": {"domain": ["2021","2022","2023","2024"], "range": ["#1F1F7A","#2EC4F0","#BFBFBF","#C00000"]}, "legend": {"legendX": 461, "legendY": 810, "symbolSize": 576, "labelFontSize": 10.5, "labelOffset": 2, "columnPadding": 7}},
    "strokeWidth": {"field": "s", "type": "nominal", "scale": {"type": "ordinal", "domain": ["2021","2022","2023","2024"], "range": [1.3,1.3,1.3,3.6]}}
   }
  }
]
}
